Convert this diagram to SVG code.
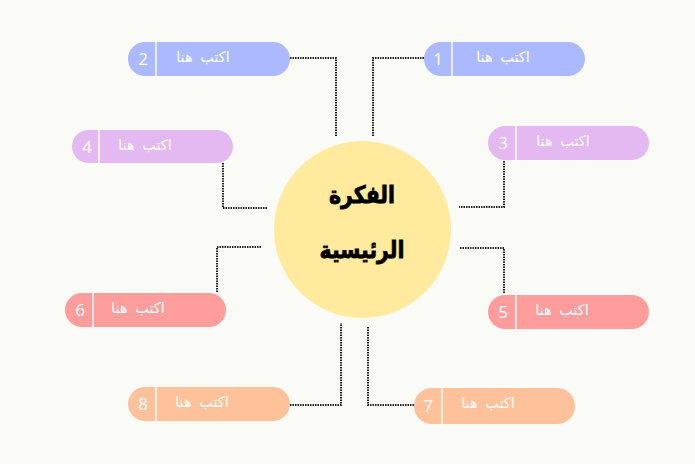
<svg xmlns="http://www.w3.org/2000/svg" width="695" height="464" viewBox="0 0 695 464">
<style>
.lbl{font-family:"DejaVu Sans","Noto Sans",sans-serif;font-size:14.5px;fill:#ffffff;text-anchor:middle;word-spacing:3px}
.num{font-family:"Open Sans","DejaVu Sans",sans-serif;font-size:17px;fill:#ffffff;text-anchor:middle}
.div{stroke:#ffffff;stroke-width:1.5}
.con{fill:none;stroke:#222;stroke-width:2;stroke-dasharray:1.5 1}
.title{font-family:"DejaVu Sans",sans-serif;font-weight:bold;font-size:24px;fill:#000;stroke:#000;stroke-width:0.8;text-anchor:middle}
.c1{fill:#abb9fe}.c2{fill:#e4b8f0}.c3{fill:#ff9c9c}.c4{fill:#ffc19a}
</style>
<rect width="695" height="464" fill="#fafaf6"/>
<g id="connectors">
<polyline class="con" points="290,58 336,58 336,136"/>
<polyline class="con" points="424,58 373,58 373,137"/>
<polyline class="con" points="223,163 223,208 267,208"/>
<polyline class="con" points="504,161 504,207 459,207"/>
<polyline class="con" points="217,292 217,247 262,247"/>
<polyline class="con" points="504,293 504,248 459,248"/>
<polyline class="con" points="290,405 341,405 341,323"/>
<polyline class="con" points="414,405 368,405 368,327"/>
</g>
<g id="center">
<circle cx="362.5" cy="229.5" r="88.5" fill="#ffea9e"/>
<text class="title" transform="translate(362,203) scale(0.85,1)" x="0" y="0">الفكرة</text>
<text class="title" transform="translate(362,258) scale(0.85,1)" x="0" y="0">الرئيسية</text>
</g>
<g id="node1">
<rect class="c1" x="424" y="42" width="161" height="34" rx="17"/>
<line class="div" x1="452" y1="42" x2="452" y2="76"/>
<text class="num" x="438" y="65">1</text>
<text class="lbl" x="503" y="62">اكتب هنا</text>
</g>
<g id="node2">
<rect class="c1" x="128" y="42" width="162" height="34" rx="17"/>
<line class="div" x1="156" y1="42" x2="156" y2="76"/>
<text class="num" x="143" y="65">2</text>
<text class="lbl" x="203" y="62">اكتب هنا</text>
</g>
<g id="node3">
<rect class="c2" x="488" y="126" width="161" height="34" rx="17"/>
<line class="div" x1="516" y1="126" x2="516" y2="160"/>
<text class="num" x="503" y="149">3</text>
<text class="lbl" x="563" y="146">اكتب هنا</text>
</g>
<g id="node4">
<rect class="c2" x="72" y="130" width="161" height="33" rx="16.5"/>
<line class="div" x1="99" y1="130" x2="99" y2="163"/>
<text class="num" x="87" y="153">4</text>
<text class="lbl" x="145" y="150">اكتب هنا</text>
</g>
<g id="node5">
<rect class="c3" x="488" y="295" width="161" height="34" rx="17"/>
<line class="div" x1="516" y1="295" x2="516" y2="329"/>
<text class="num" x="503" y="318">5</text>
<text class="lbl" x="562" y="315">اكتب هنا</text>
</g>
<g id="node6">
<rect class="c3" x="65" y="293" width="161" height="34" rx="17"/>
<line class="div" x1="93" y1="293" x2="93" y2="327"/>
<text class="num" x="80" y="316">6</text>
<text class="lbl" x="138" y="313">اكتب هنا</text>
</g>
<g id="node7">
<rect class="c4" x="414" y="388" width="161" height="36" rx="18"/>
<line class="div" x1="442" y1="388" x2="442" y2="424"/>
<text class="num" x="428" y="412">7</text>
<text class="lbl" x="488" y="408">اكتب هنا</text>
</g>
<g id="node8">
<rect class="c4" x="128" y="387" width="162" height="34" rx="17"/>
<line class="div" x1="156" y1="387" x2="156" y2="421"/>
<text class="num" x="143" y="410">8</text>
<text class="lbl" x="202" y="407">اكتب هنا</text>
</g>
</svg>
